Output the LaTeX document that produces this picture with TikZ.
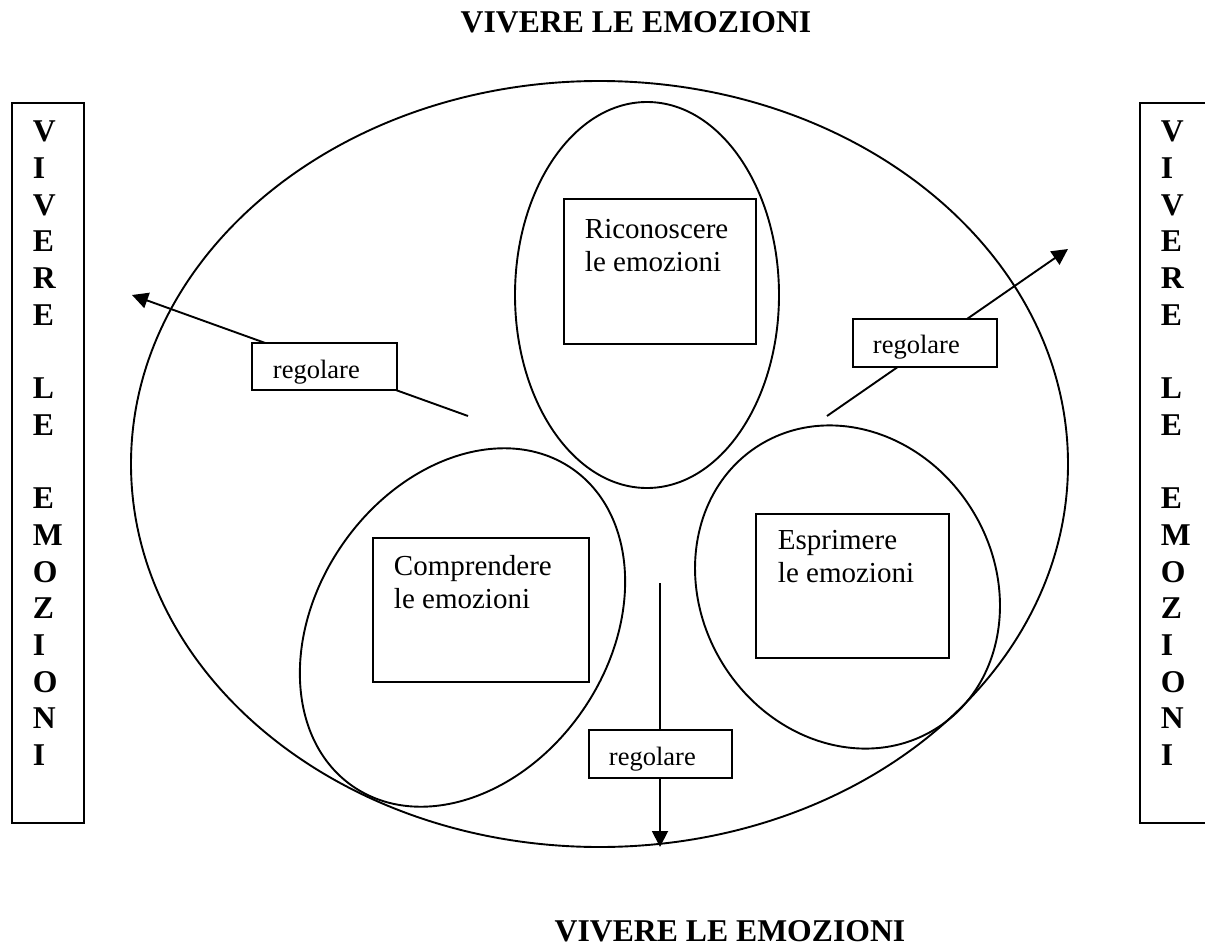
\documentclass[tikz,border=0pt]{standalone}
\usepackage{fontspec}
\setmainfont{Liberation Serif}
\usetikzlibrary{arrows.meta,shapes.geometric,positioning}
\tikzset{
	ring/.style={draw, ellipse, inner sep=0pt},
	framebox/.style={draw, rectangle, inner sep=0pt, anchor=north west},
	tagbox/.style={framebox, fill=white},
	inside/.style={inner sep=0pt, align=left, font=\fontsize{29}{33.5}\selectfont},
	tagtxt/.style={inner sep=0pt, font=\fontsize{26.5}{30}\selectfont},
	headline/.style={inner sep=0pt, anchor=base, font=\bfseries\fontsize{31.7}{36.7}\selectfont},
	sidetxt/.style={inner sep=0pt, align=left, font=\bfseries\fontsize{31.7}{36.7}\selectfont},
	outarrow/.style={-{Triangle[length=16pt,width=16pt]}}
}
\newcommand{\vivere}{V\\I\\V\\E\\R\\E\\[36.7pt]L\\E\\[36.7pt]E\\M\\O\\Z\\I\\O\\N\\I}
\begin{document}
\begin{tikzpicture}[x=1pt, y=-1pt, line width=1.9pt]
	\useasboundingbox (0,0) rectangle (1205,950);
		\node[headline] (titleTop) at (636,33) {VIVERE LE EMOZIONI};
		\node[headline] (titleBot) at (730,941) {VIVERE LE EMOZIONI};
		\node[framebox, minimum width=72, minimum height=720] (leftBox) at (11,102) {};
		\node[framebox, minimum width=72, minimum height=720] (rightBox) at (1139,102) {};
		\node[sidetxt, below right=18pt and 21pt of leftBox.north west] (leftTxt) {\vivere};
		\node[sidetxt, below right=18pt and 21pt of rightBox.north west] (rightTxt) {\vivere};
		\node[ring, minimum width=937, minimum height=766] (bigRing) at (599.5,464) {};
		\node[ring, minimum width=264, minimum height=386] (ricRing) at (647,295) {};
		\node[ring, rotate=55.4, minimum width=386, minimum height=292] (compRing) at (462.5,627.5) {};
		\node[ring, rotate=-58.2, minimum width=334, minimum height=293] (esprRing) at (847.5,587) {};
		\node[framebox, minimum width=192, minimum height=145] (ricBox) at (563,198) {};
		\node[framebox, minimum width=216, minimum height=144] (compBox) at (372,537) {};
		\node[framebox, minimum width=193, minimum height=144] (esprBox) at (755,513) {};
		\node[inside, below right=20.2pt and 21pt of ricBox.north west] (ricTxt) {Riconoscere\\le emozioni};
		\node[inside, below right=17.2pt and 21pt of compBox.north west] (compTxt) {Comprendere\\le emozioni};
		\node[inside, below right=16.2pt and 22pt of esprBox.north west] (esprTxt) {Esprimere\\le emozioni};
		\coordinate (regLfrom) at (468,416);
		\coordinate (regLto) at (132,295);
		\coordinate (regRfrom) at (827,416);
		\coordinate (regRto) at (1068,249);
		\coordinate (regBfrom) at (660,583);
		\coordinate (regBto) at (660,847);
		\draw[outarrow] (regLfrom) -- (regLto);
		\draw[outarrow] (regRfrom) -- (regRto);
		\draw[outarrow] (regBfrom) -- (regBto);
		\node[tagbox, minimum width=145, minimum height=47] (regL) at (251,342) {};
		\node[tagbox, minimum width=144, minimum height=48] (regR) at (852,318) {};
		\node[tagbox, minimum width=143, minimum height=48] (regB) at (588,729) {};
		\node[tagtxt, below right=16.9pt and 21pt of regL.north west] (regLtxt) {regolare};
		\node[tagtxt, below right=15.9pt and 20pt of regR.north west] (regRtxt) {regolare};
		\node[tagtxt, below right=16.9pt and 20pt of regB.north west] (regBtxt) {regolare};
\end{tikzpicture}
\end{document}
